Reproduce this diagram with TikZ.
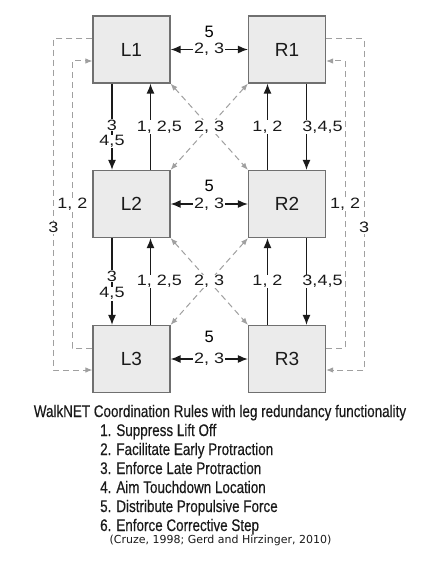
\documentclass[tikz,border=0pt]{standalone}
\usepackage{fontspec}
\usepackage{tikz}
\usetikzlibrary{arrows.meta}
\setmainfont{Liberation Sans}
\newfontfamily\lblfont[FakeStretch=1.2]{Liberation Sans}
\newfontfamily\capfont[FakeStretch=0.8,FakeBold=0.4]{Liberation Sans}
\newfontfamily\citefont{DejaVu Sans}
\definecolor{boxfill}{HTML}{EBEBEB}
\definecolor{boxline}{HTML}{707070}
\definecolor{dashgray}{HTML}{A0A0A0}
\definecolor{ink}{HTML}{1A1A1A}

\begin{document}
\begin{tikzpicture}[x=1pt,y=-1pt,
    leg/.style={draw=boxline, fill=boxfill, line width=1.2pt, minimum width=77pt,
        minimum height=67pt, inner sep=0pt, font=\fontsize{19}{22}\selectfont, text=ink},
    link/.style={draw=ink, line width=1.3pt, -{Latex[length=10pt,width=8pt]}},
    linkboth/.style={link, {Latex[length=10pt,width=8pt]}-{Latex[length=10pt,width=8pt]}},
    hint/.style={draw=dashgray, line width=1pt, dash pattern=on 6pt off 4pt,
        -{Latex[length=7pt,width=5.5pt]}},
    hintboth/.style={hint, {Latex[length=7pt,width=5.5pt]}-{Latex[length=7pt,width=5.5pt]}},
    lbl/.style={fill=white, inner sep=0.8pt, text=ink, font=\lblfont\fontsize{15}{17}\selectfont},
    force/.style={inner sep=0pt, text=black, font=\fontsize{16.5}{18}\selectfont},
    rule/.style={inner sep=0pt, anchor=base west, text=ink, font=\capfont\fontsize{16.8}{19}\selectfont}
]
    % page
    \fill[white] (0,0) rectangle (423,567);
    \useasboundingbox (0,0) rectangle (423,567);

    % the six legs
    \node[leg] (L1) at (131.5,49.5) {L1};
    \node[leg] (R1) at (287,49.5) {R1};
    \node[leg] (L2) at (131.5,204) {L2};
    \node[leg] (R2) at (287,204) {R2};
    \node[leg] (L3) at (131.5,359) {L3};
    \node[leg] (R3) at (287,359) {R3};

    % left to right
    \draw[linkboth] (L1) -- node[lbl]{2, 3} node[force,yshift=18pt]{5} (R1);
    \draw[linkboth] (L2) -- node[lbl]{2, 3} node[force,yshift=18pt]{5} (R2);
    \draw[linkboth] (L3) -- node[lbl]{2, 3} node[force,yshift=22pt]{5} (R3);

    % front to back, left side
    \draw[link] ([xshift=-19.5pt]L1.south) -- node[lbl,pos=.48]{3} node[lbl,pos=.67]{4,5} ([xshift=-19.5pt]L2.north);
    \draw[link] ([xshift=19pt]L2.north) -- node[lbl,xshift=9pt]{1, 2,5} ([xshift=19pt]L1.south);
    \draw[link] ([xshift=-19.5pt]L2.south) -- node[lbl,pos=.44]{3} node[lbl,pos=.64]{4,5} ([xshift=-19.5pt]L3.north);
    \draw[link] ([xshift=19pt]L3.north) -- node[lbl,xshift=9pt]{1, 2,5} ([xshift=19pt]L2.south);

    % front to back, right side
    \draw[link] ([xshift=-19.5pt]R2.north) -- node[lbl]{1, 2} ([xshift=-19.5pt]R1.south);
    \draw[link] ([xshift=19.5pt]R1.south) -- node[lbl,xshift=16pt]{3,4,5} ([xshift=19.5pt]R2.north);
    \draw[link] ([xshift=-19.5pt]R3.north) -- node[lbl]{1, 2} ([xshift=-19.5pt]R2.south);
    \draw[link] ([xshift=19.5pt]R2.south) -- node[lbl,xshift=16pt]{3,4,5} ([xshift=19.5pt]R3.north);

    % diagonals
    \draw[hintboth] (R1.south west) -- (L2.north east);
    \draw[hintboth] (L1.south east) -- node[lbl]{2, 3} (R2.north west);
    \draw[hintboth] (R2.south west) -- (L3.north east);
    \draw[hintboth] (L2.south east) -- node[lbl]{2, 3} (R3.north west);

    % redundancy loops
    \draw[hint] ([yshift=10.5pt]L1.west) -- ++(-39,0) |- node[lbl,pos=.285]{3} ([yshift=-11pt]L3.west);
    \draw[hint] ([yshift=11pt]L3.west) -- ++(-20,0) |- node[lbl,pos=.25]{1, 2} ([yshift=-11.5pt]L1.west);
    \draw[hint] ([yshift=10.5pt]R1.east) -- ++(38,0) |- node[lbl,pos=.285]{3} ([yshift=-11pt]R3.east);
    \draw[hint] ([yshift=11pt]R3.east) -- ++(19,0) |- node[lbl,pos=.25]{1, 2} ([yshift=-11.5pt]R1.east);

    % caption
    \node[rule, anchor=base] (title) at (220,417) {WalkNET Coordination Rules with leg redundancy functionality};
    \foreach \i/\txt in {1/Suppress Lift Off, 2/Facilitate Early Protraction, 3/Enforce Late Protraction,
        4/Aim Touchdown Location, 5/Distribute Propulsive Force, 6/Enforce Corrective Step}
        \node[rule] (rule\i) at (100,417+19*\i) {\i. \txt};
    \node[inner sep=0pt, anchor=base, text=ink, font=\citefont\fontsize{11}{13}\selectfont] (cite) at (220.5,543)
        {(Cruze, 1998; Gerd and Hirzinger, 2010)};
\end{tikzpicture}
\end{document}
